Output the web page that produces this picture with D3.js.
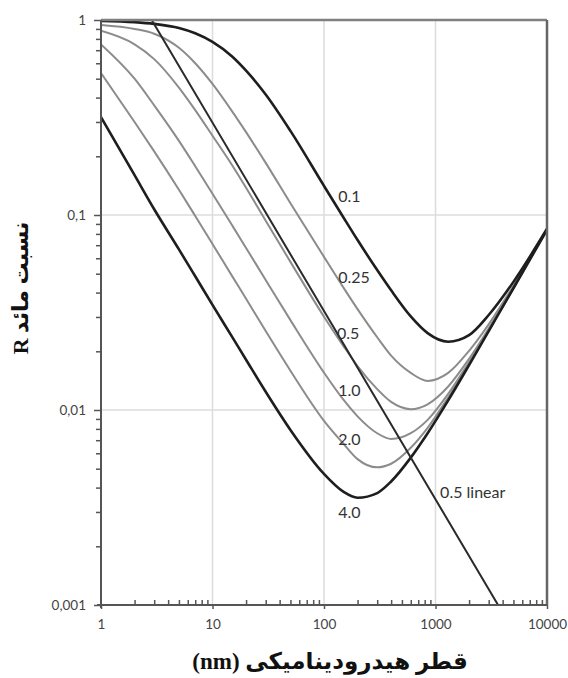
<!DOCTYPE html>
<html><head><meta charset="utf-8">
<script src="https://cdn.jsdelivr.net/npm/d3@7"></script>
<style>body{margin:0;background:#fff}</style>
</head><body><svg id="c" width="568" height="678"></svg>
<script>
// ---- data ----
const diameters = [1,2,3,5,7,10,15,20,30,50,100,150,200,300,400,600,850,1300,2000,3000,5000,10000];
const r01  = [0.99,0.975,0.955,0.91,0.855,0.772,0.65,0.55,0.415,0.27,0.141,0.0968,0.0744,0.0522,0.0411,0.0302,0.0248,0.0224,0.0242,0.0307,0.0454,0.085];
const r025 = [0.943,0.90,0.85,0.72,0.60,0.47,0.34,0.266,0.185,0.115,0.061,0.0423,0.0329,0.0236,0.019,0.0155,0.0141,0.0155,0.0201,0.0275,0.0434,0.0843];
const r05  = [0.88,0.75,0.63,0.45,0.345,0.255,0.18,0.138,0.0935,0.0575,0.0301,0.0212,0.0168,0.0128,0.011,0.0101,0.0107,0.0132,0.0183,0.0262,0.0427,0.0842];
const r10  = [0.75,0.50,0.365,0.24,0.178,0.1286,0.0885,0.0678,0.0464,0.0289,0.01555,0.01126,0.00928,0.0076,0.0071,0.0076,0.0089,0.0121,0.0176,0.0258,0.0424,0.0842];
const r20  = [0.535,0.30,0.212,0.1347,0.0989,0.071,0.0486,0.0372,0.0254,0.0159,0.0088,0.0067,0.0056,0.00508,0.0053,0.0064,0.0081,0.0116,0.0173,0.0255,0.0422,0.0841];
const r40  = [0.318,0.16,0.107,0.0666,0.0485,0.0346,0.0237,0.0181,0.0124,0.0079,0.0047,0.0038,0.00355,0.00375,0.0043,0.0057,0.0076,0.0112,0.017,0.0254,0.0421,0.084];
const linearD = [1, 2.85, 3640];
const linearR = [1, 1, 0.001];
const seriesNames = ["0.1","0.25","0.5","1.0","2.0","4.0"];
const linearName = "0.5 linear";
const xTicks = [1,10,100,1000,10000];
const xTickLabels = ["1","10","100","1000","10000"];
const yTicks = [1,0.1,0.01,0.001];
const yTickLabels = ["1","0,1","0,01","0,001"];
const xTitle = "قطر هیدرودینامیکی (nm)";
const yTitle = "نسبت مائد R";

// ---- layout ----
const L = 101, R = 547, T = 20, B = 605;
const svg = d3.select("#c");
const x = d3.scaleLog().domain([1,10000]).range([L,R]);
const y = d3.scaleLog().domain([0.001,1]).range([B,T]);

const styles = {
  "0.1": {c:"#1e1e1e", w:2.6},
  "0.25":{c:"#8c8c8c", w:2},
  "0.5": {c:"#8c8c8c", w:2},
  "1.0": {c:"#8c8c8c", w:2},
  "2.0": {c:"#8c8c8c", w:2},
  "4.0": {c:"#1e1e1e", w:2.6}
};
const seriesVals = [r01,r025,r05,r10,r20,r40];

svg.append("clipPath").attr("id","clip").append("rect")
  .attr("x",L).attr("y",T).attr("width",R-L).attr("height",B-T);

// grid
const g = svg.append("g");
g.selectAll("line.gx").data(xTicks.slice(1,-1)).join("line")
  .attr("x1",d=>x(d)).attr("x2",d=>x(d)).attr("y1",T).attr("y2",B)
  .attr("stroke","#dcdcdc").attr("stroke-width",1.5);
g.selectAll("line.gy").data(yTicks.slice(1,-1)).join("line")
  .attr("y1",d=>y(d)).attr("y2",d=>y(d)).attr("x1",L).attr("x2",R)
  .attr("stroke","#dcdcdc").attr("stroke-width",1.5);

// curves
const line = d3.line().x(d=>x(d[0])).y(d=>y(d[1])).curve(d3.curveMonotoneX);
const plot = svg.append("g").attr("clip-path","url(#clip)");
const order = [1,2,3,4,0,5];
order.forEach(i=>{
  const name = seriesNames[i];
  const pts = diameters.map((d,k)=>[d, seriesVals[i][k]]);
  plot.append("path").attr("d",line(pts)).attr("fill","none")
    .attr("stroke",styles[name].c).attr("stroke-width",styles[name].w)
    .attr("stroke-linejoin","round");
});
plot.append("path")
  .attr("d", d3.line().x(d=>x(d[0])).y(d=>y(d[1]))(linearD.map((d,k)=>[d,linearR[k]])))
  .attr("fill","none").attr("stroke","#2a2a2a").attr("stroke-width",2);

// minor ticks
const minors = [];
[1,10,100,1000].forEach(dec=>{ for(let m=2;m<=9;m++) minors.push(dec*m); });
const yMinors = [];
[0.001,0.01,0.1].forEach(dec=>{ for(let m=2;m<=9;m++) yMinors.push(+(dec*m).toPrecision(3)); });

const axisColor = "#555";
svg.append("g").attr("transform",`translate(${L},0)`)
  .call(d3.axisLeft(y).tickValues(yMinors).tickSize(5).tickFormat(""))
  .call(a=>a.select(".domain").remove())
  .call(a=>a.selectAll("line").attr("stroke",axisColor).attr("stroke-width",1.5));
svg.append("g").attr("transform",`translate(${L},0)`)
  .call(d3.axisLeft(y).tickValues(yTicks).tickSize(7).tickPadding(8)
        .tickFormat((d,i)=>yTickLabels[i]))
  .call(a=>a.select(".domain").remove())
  .call(a=>a.selectAll("line").attr("stroke",axisColor).attr("stroke-width",1.5))
  .call(a=>a.selectAll("text").attr("font-family","Lato, 'Open Sans', sans-serif")
        .attr("font-size",13.5).attr("fill","#444").attr("dy","0.35em"));
svg.append("g").attr("transform",`translate(0,${B})`)
  .call(d3.axisBottom(x).tickValues(minors).tickSize(-5).tickFormat(""))
  .call(a=>a.select(".domain").remove())
  .call(a=>a.selectAll("line").attr("stroke",axisColor).attr("stroke-width",1.5));
svg.append("g").attr("transform",`translate(0,${B})`)
  .call(d3.axisBottom(x).tickValues(xTicks).tickSize(4).tickPadding(10)
        .tickFormat((d,i)=>xTickLabels[i]))
  .call(a=>a.select(".domain").remove())
  .call(a=>a.selectAll("line").attr("stroke",axisColor).attr("stroke-width",1.5))
  .call(a=>a.selectAll("text").attr("font-family","Lato, 'Open Sans', sans-serif")
        .attr("font-size",13.5).attr("fill","#444"));

// frame
svg.append("line").attr("x1",L).attr("x2",R).attr("y1",T).attr("y2",T)
  .attr("stroke","#808080").attr("stroke-width",2.5);
svg.append("line").attr("x1",R).attr("x2",R).attr("y1",T).attr("y2",B)
  .attr("stroke","#666").attr("stroke-width",2.5);
svg.append("line").attr("x1",L).attr("x2",L).attr("y1",T).attr("y2",B+3)
  .attr("stroke",axisColor).attr("stroke-width",2);
svg.append("line").attr("x1",L-4).attr("x2",R).attr("y1",B).attr("y2",B)
  .attr("stroke",axisColor).attr("stroke-width",2);

// curve labels (data-space anchors)
const labelAnchors = [
  {t:seriesNames[0], d:134, r:0.1166},
  {t:seriesNames[1], d:134, r:0.0448},
  {t:seriesNames[2], d:131, r:0.0231},
  {t:seriesNames[3], d:134, r:0.0118},
  {t:seriesNames[4], d:134, r:0.00661},
  {t:seriesNames[5], d:134, r:0.00279},
  {t:linearName,     d:1100, r:0.00354}
];
svg.append("g").selectAll("text").data(labelAnchors).join("text")
  .attr("x",d=>x(d.d)).attr("y",d=>y(d.r)).text(d=>d.t)
  .attr("font-family","Lato, 'Open Sans', sans-serif").attr("font-size",16)
  .attr("fill","#333");

// axis titles
svg.append("text").attr("x",330).attr("y",669).text(xTitle)
  .attr("text-anchor","middle").style("direction","rtl")
  .attr("font-family","'Liberation Serif', 'DejaVu Serif', 'DejaVu Sans', serif")
  .attr("font-weight","bold").attr("font-size",23).attr("fill","#111");
svg.append("text").attr("transform","translate(28,288) rotate(-90)").text(yTitle)
  .attr("text-anchor","middle").style("direction","rtl")
  .attr("font-family","'Liberation Serif', 'DejaVu Serif', 'DejaVu Sans', serif")
  .attr("font-weight","bold").attr("font-size",22).attr("fill","#111");
</script></body></html>
